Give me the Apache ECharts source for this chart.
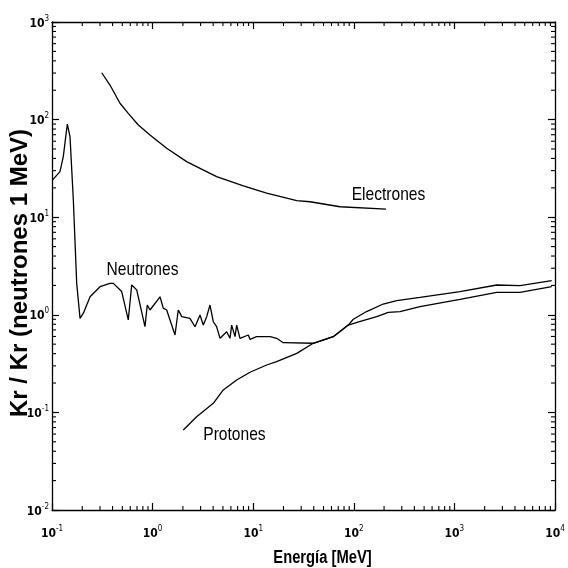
<!DOCTYPE html>
<html>
<head>
<meta charset="utf-8">
<script src="https://cdn.jsdelivr.net/npm/echarts@6/dist/echarts.min.js"></script>
<style>html,body{margin:0;padding:0;background:#fff;}#chart{width:568px;height:568px;}</style>
</head>
<body>
<div id="chart"></div>
<script>
// ---- data ----
const energyNeutrones = [0.101,0.120,0.1295,0.142,0.151,0.163,0.176,0.190,0.205,0.239,0.300,0.377,0.407,0.493,0.573,0.620,0.695,0.840,0.885,0.942,1.185,1.277,1.38,1.67,1.80,1.95,2.35,2.64,2.96,3.19,3.45,3.72,3.87,4.01,4.33,4.68,5.45,5.88,6.11,6.59,6.85,7.39,8.94,9.29,10.8,14.7,17.1,19.9,39.5,62.5,88.1,98.9,134,196,267,455,1137,2633,4490,9270];
const kermaNeutrones = [24.0,29.3,41.7,90.1,66.8,15.0,2.10,0.92,1.04,1.53,1.94,2.10,2.10,1.73,0.885,2.02,1.80,0.755,1.26,1.12,1.53,1.17,1.12,0.621,1.12,0.957,0.92,0.755,0.995,0.785,0.957,1.26,1.31,0.849,0.755,0.574,0.671,0.574,0.785,0.597,0.785,0.574,0.621,0.561,0.597,0.597,0.574,0.518,0.511,0.597,0.785,0.90,1.08,1.29,1.40,1.51,1.73,2.02,1.99,2.24];

const energyProtones = [2.02,2.74,4.01,5.04,6.85,9.29,13.6,17.1,27.1,39.5,62.5,88.1,114,169,220,288,455,1137,2633,4490,9270];
const kermaProtones = [0.0661,0.0903,0.124,0.170,0.215,0.258,0.306,0.331,0.403,0.511,0.597,0.785,0.849,0.957,1.06,1.08,1.21,1.44,1.70,1.70,1.94];

const energyElectrones = [0.312,0.377,0.474,0.573,0.721,0.942,1.38,2.18,2.96,4.33,7.98,13.6,27.1,36.7,73,209];
const kermaElectrones = [302,226,147,116,88,69.6,50.8,37.1,31.7,26.0,20.9,17.6,14.8,14.4,12.8,12.1];

// curve annotations: text and [energy, value] where the text starts
const curveLabels = ['Neutrones', 'Protones', 'Electrones'];
const curveLabelAnchors = [[0.349, 2.88], [3.19, 0.0586], [95.3, 16.9]];

// axes
const xMin = 0.1, xMax = 10000;
const yMin = 0.01, yMax = 1000;
const xTickExponents = [-1, 0, 1, 2, 3, 4];
const yTickExponents = [-2, -1, 0, 1, 2, 3];
const minorMultipliers = [2,3,4,5,6,7,8,9];
const xDecades = [0.1, 1, 10, 100, 1000];
const yDecades = [0.01, 0.1, 1, 10, 100];
const xTitle = 'Energía [MeV]';
const yTitle = 'Kr / Kr (neutrones 1 MeV)';

const xMinor = [];
xDecades.forEach(d => minorMultipliers.forEach(m => xMinor.push(m * d)));
const yMinor = [];
yDecades.forEach(d => minorMultipliers.forEach(m => yMinor.push(m * d)));

const pair = (xs, ys) => xs.map((x, i) => [x, ys[i]]);

const COND = "'DejaVu Sans Condensed', 'Liberation Sans', sans-serif";
const SANS = "'Liberation Sans', Arial, sans-serif";

function powLabel(exps) {
  return function (v) {
    const e = Math.round(Math.log10(v));
    const k = exps.indexOf(e);
    if (k < 0) return '';
    return '{b|10}{s|' + exps[k] + '}';
  };
}
const richLab = {
  b: { fontFamily: COND, fontSize: 12, color: '#000', fontWeight: 'bold', verticalAlign: 'bottom', lineHeight: 15 },
  s: { fontFamily: COND, fontSize: 8, color: '#000', verticalAlign: 'top', lineHeight: 15 }
};

const lineStyle = { color: '#000', width: 1.3 };

const chart = echarts.init(document.getElementById('chart'), null, { renderer: 'canvas' });
const baseAxisX = {
  type: 'log', logBase: 10, min: xMin, max: xMax, splitNumber: 5,
  axisLine: { show: true, onZero: false, lineStyle: { color: '#000', width: 1.3 } },
  axisTick: { show: true, inside: true, length: 7, lineStyle: { color: '#000', width: 1.2 } },
  splitLine: { show: false }, minorTick: { show: false }
};
const baseAxisY = {
  type: 'log', logBase: 10, min: yMin, max: yMax, splitNumber: 5,
  axisLine: { show: true, onZero: false, lineStyle: { color: '#000', width: 1.3 } },
  axisTick: { show: true, inside: true, length: 7, lineStyle: { color: '#000', width: 1.2 } },
  splitLine: { show: false }, minorTick: { show: false }
};

const option = {
  backgroundColor: '#fff',
  animation: false,
  grid: { left: 52, right: 13, top: 22, bottom: 58, containLabel: false, outerBoundsMode: 'none' },
  xAxis: [
    Object.assign({}, baseAxisX, {
      position: 'bottom',
      axisLabel: { show: true, margin: 15, formatter: powLabel(xTickExponents), rich: richLab }
    }),
    Object.assign({}, baseAxisX, { position: 'top', axisLabel: { show: false } })
  ],
  yAxis: [
    Object.assign({}, baseAxisY, {
      position: 'left',
      name: yTitle, nameLocation: 'middle', nameGap: 20, nameMoveOverlap: false,
      nameTextStyle: { fontFamily: SANS, fontWeight: 'bold', fontSize: 24, color: '#000', padding: [0, 14, 0, 0] },
      axisLabel: { show: true, margin: 3, formatter: powLabel(yTickExponents), rich: richLab }
    }),
    Object.assign({}, baseAxisY, { position: 'right', axisLabel: { show: false } })
  ],
  series: [
    { name: 'Neutrones', type: 'line', data: pair(energyNeutrones, kermaNeutrones),
      showSymbol: false, symbol: 'none', lineStyle: lineStyle, z: 3 },
    { name: 'Protones', type: 'line', data: pair(energyProtones, kermaProtones),
      showSymbol: false, symbol: 'none', lineStyle: lineStyle, z: 3 },
    { name: 'Electrones', type: 'line', data: pair(energyElectrones, kermaElectrones),
      showSymbol: false, symbol: 'none', lineStyle: lineStyle, z: 3 },
    {
      name: 'xMinorTicks', type: 'custom', silent: true, clip: false, z: 5,
      data: xMinor.map(v => [v, yMin]),
      renderItem: function (params, api) {
        const b = api.coord([api.value(0), yMin]);
        const t = api.coord([api.value(0), yMax]);
        const st = { stroke: '#000', lineWidth: 1.1 };
        return { type: 'group', children: [
          { type: 'line', shape: { x1: b[0], y1: b[1], x2: b[0], y2: b[1] - 4 }, style: st },
          { type: 'line', shape: { x1: t[0], y1: t[1], x2: t[0], y2: t[1] + 4 }, style: st }
        ]};
      }
    },
    {
      name: 'yMinorTicks', type: 'custom', silent: true, clip: false, z: 5,
      data: yMinor.map(v => [xMin, v]),
      renderItem: function (params, api) {
        const l = api.coord([xMin, api.value(1)]);
        const r = api.coord([xMax, api.value(1)]);
        const st = { stroke: '#000', lineWidth: 1.1 };
        return { type: 'group', children: [
          { type: 'line', shape: { x1: l[0], y1: l[1], x2: l[0] + 4, y2: l[1] }, style: st },
          { type: 'line', shape: { x1: r[0], y1: r[1], x2: r[0] - 4, y2: r[1] }, style: st }
        ]};
      }
    }
  ]
};
chart.setOption(option);

// curve annotations and x title, placed through the chart's own scales
const graphics = curveLabels.map((txt, i) => {
  const p = chart.convertToPixel({ xAxisIndex: 0, yAxisIndex: 0 }, curveLabelAnchors[i]);
  return {
    type: 'text', x: p[0], y: p[1], scaleX: 0.82, z: 10, silent: true,
    style: { text: txt, fontFamily: SANS, fontSize: 19, fill: '#000', align: 'left', verticalAlign: 'middle' }
  };
});
const xMid = chart.convertToPixel({ xAxisIndex: 0 }, Math.sqrt(xMin * xMax));
const yBottom = chart.convertToPixel({ yAxisIndex: 0 }, yMin);
graphics.push({
  type: 'text', x: xMid + 19, y: yBottom + 48, scaleX: 0.82, z: 10, silent: true,
  style: { text: xTitle, fontFamily: SANS, fontWeight: 'bold', fontSize: 18, fill: '#000', align: 'center', verticalAlign: 'middle' }
});
chart.setOption({ graphic: graphics });
</script>
</body>
</html>
